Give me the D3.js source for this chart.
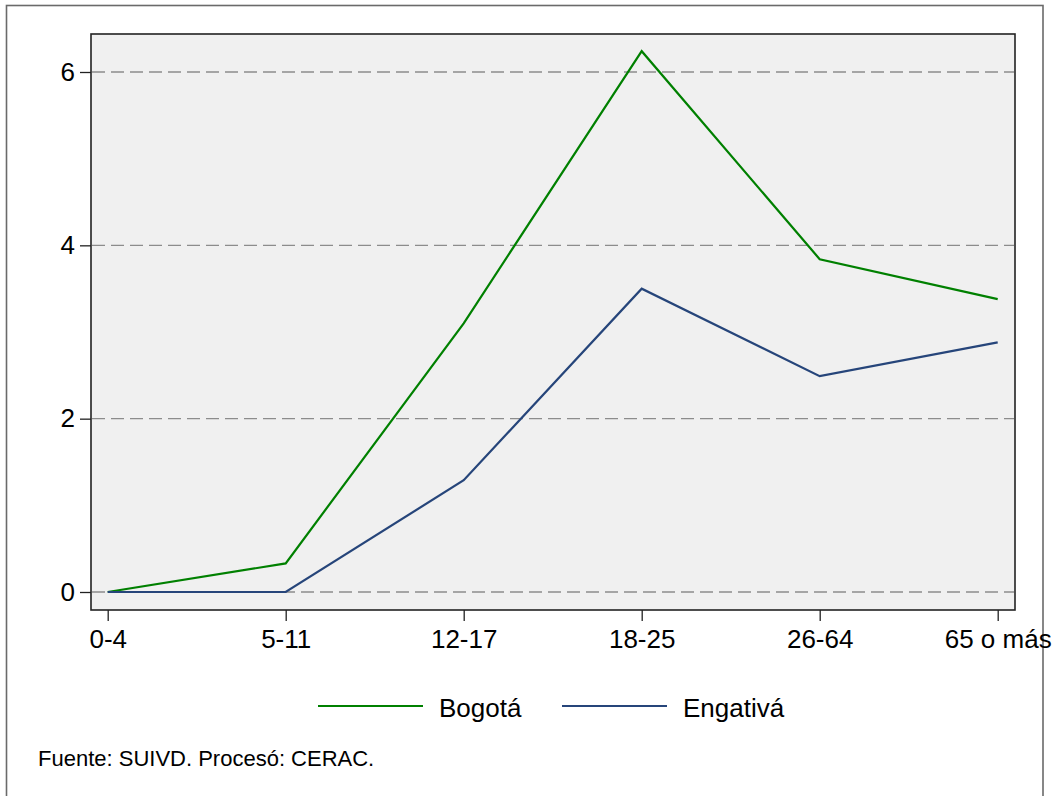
<!DOCTYPE html>
<html>
<head>
<meta charset="utf-8">
<script src="https://cdn.jsdelivr.net/npm/d3@7"></script>
<style>
  html, body { margin: 0; padding: 0; background: #fff; }
  svg { display: block; }
  text { font-family: Arial, "Liberation Sans", sans-serif; fill: #000; }
</style>
</head>
<body>
<svg id="chart" width="1059" height="796"></svg>
<script>
const categories = ["0-4", "5-11", "12-17", "18-25", "26-64", "65 o más"];
const bogota = [0, 0.33, 3.10, 6.24, 3.84, 3.38];
const engativa = [0, 0, 1.29, 3.50, 2.49, 2.88];
const yTicks = [0, 2, 4, 6];
const seriesNames = ["Bogotá", "Engativá"];
const seriesColors = ["#008000", "#26457a"];
const sourceNote = "Fuente: SUIVD. Procesó: CERAC.";

const svg = d3.select("#chart");
const plot = {left: 91, top: 34, right: 1015, bottom: 610};
const FONT = "Arial, 'Liberation Sans', sans-serif";

// outer frame (bottom edge falls outside the picture)
svg.append("rect")
  .attr("x", 6.5).attr("y", 5.5)
  .attr("width", 1036.5).attr("height", 800)
  .attr("fill", "none").attr("stroke", "#6a6a6a").attr("stroke-width", 1.6);

// plot background
svg.append("rect")
  .attr("x", plot.left).attr("y", plot.top)
  .attr("width", plot.right - plot.left).attr("height", plot.bottom - plot.top)
  .attr("fill", "#f0f0f0");

const x = d3.scalePoint().domain(categories).range([107.7, 997.7]);
const y = d3.scaleLinear().domain([0, 6]).range([592, 72]);

// gridlines
svg.append("g").selectAll("line").data(yTicks).join("line")
  .attr("x1", plot.left + 1).attr("x2", plot.right - 1)
  .attr("y1", d => y(d)).attr("y2", d => y(d))
  .attr("stroke", "#8c8c8c").attr("stroke-width", 1.3)
  .attr("stroke-dasharray", "13,6");

// lines
const lineGen = d3.line().x((d, i) => x(categories[i])).y(d => y(d));
[bogota, engativa].forEach((s, k) => {
  svg.append("path").datum(s)
    .attr("d", lineGen)
    .attr("fill", "none")
    .attr("stroke", seriesColors[k])
    .attr("stroke-width", 2.2)
    .attr("stroke-linejoin", "miter");
});

// plot frame
svg.append("rect")
  .attr("x", plot.left).attr("y", plot.top)
  .attr("width", plot.right - plot.left).attr("height", plot.bottom - plot.top)
  .attr("fill", "none").attr("stroke", "#222").attr("stroke-width", 1.6);

// y axis
const yAxis = d3.axisLeft(y).tickValues(yTicks).tickSize(11).tickPadding(5).tickFormat(d3.format("d"));
const gy = svg.append("g").attr("transform", `translate(${plot.left},0)`).call(yAxis);
gy.select(".domain").remove();
gy.selectAll(".tick line").attr("stroke", "#222").attr("stroke-width", 1.3);
gy.selectAll(".tick text").attr("font-size", 26).attr("font-family", FONT).attr("fill", "#000");

// x axis
const xAxis = d3.axisBottom(x).tickSize(11).tickPadding(9);
const gx = svg.append("g").attr("transform", `translate(0,${plot.bottom})`).call(xAxis);
gx.select(".domain").remove();
gx.selectAll(".tick line").attr("stroke", "#222").attr("stroke-width", 1.3);
gx.selectAll(".tick text").attr("font-size", 26).attr("font-family", FONT).attr("fill", "#000");

// legend
const legendItems = [
  {x1: 318, x2: 423, tx: 439},
  {x1: 562, x2: 667, tx: 683}
];
legendItems.forEach((it, k) => {
  svg.append("line")
    .attr("x1", it.x1).attr("x2", it.x2).attr("y1", 706).attr("y2", 706)
    .attr("stroke", seriesColors[k]).attr("stroke-width", 2.2);
  svg.append("text")
    .attr("x", it.tx).attr("y", 717)
    .attr("font-size", 26)
    .text(seriesNames[k]);
});

// source note
svg.append("text")
  .attr("x", 38).attr("y", 766)
  .attr("font-size", 22)
  .text(sourceNote);
</script>
</body>
</html>
